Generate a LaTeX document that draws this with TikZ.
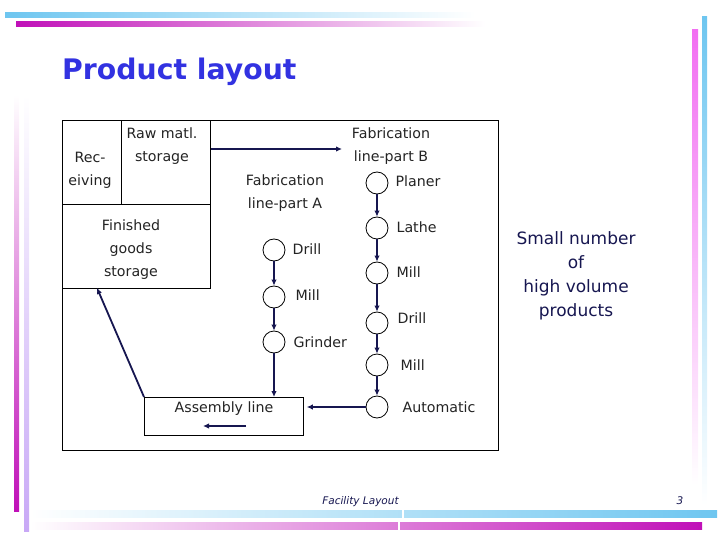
\documentclass[tikz,border=0pt]{standalone}
\usepackage{fontspec}
\setmainfont{DejaVu Sans}
\usetikzlibrary{positioning,arrows.meta,calc}
\definecolor{titleblue}{RGB}{50,50,225}
\definecolor{navy}{RGB}{22,22,80}
\definecolor{txtgray}{RGB}{35,35,35}
\definecolor{barblue}{RGB}{110,198,240}
\definecolor{barmag}{RGB}{192,16,184}
\definecolor{barpink}{RGB}{242,110,242}
\definecolor{barlav}{RGB}{200,168,246}
\newcommand{\lblfont}{\fontsize{14.2}{23}\selectfont}
\newcommand{\notefont}{\fontsize{17}{24}\selectfont}
\newcommand{\titlefont}{\fontsize{28.3}{30}\selectfont\bfseries}
\newcommand{\footfont}{\fontsize{10.5}{12}\selectfont\itshape}

\begin{document}
\begin{tikzpicture}[x=1pt,y=-1pt,
  box/.style={draw=black,line width=0.8pt,inner sep=0pt,anchor=north west},
  stn/.style={draw=black,line width=0.8pt,circle,minimum size=22pt,inner sep=0pt},
  lbl/.style={font=\lblfont,text=txtgray,inner sep=0pt,align=center},
  conn/.style={draw=navy,line width=1.8pt,-{Latex[length=6pt,width=5.5pt]}}]
\useasboundingbox (0,0) rectangle (720,540);
% slide frame bars
\shade[left color=barblue,right color=white] (5,13) rectangle (475,18);
\shade[left color=barmag,right color=white] (16,22) rectangle (485,27);
\shade[top color=barpink,bottom color=white] (692,30) rectangle (698,485);
\shade[top color=barblue,bottom color=white] (702,17) rectangle (707,505);
\shade[top color=white,bottom color=barmag] (14,95) rectangle (19,511);
\shade[top color=white,bottom color=barlav] (24,95) rectangle (29,531);
\shade[left color=white,right color=barblue] (30,510) rectangle (717,517);
\shade[left color=white,right color=barmag] (30,522) rectangle (702,529);
\fill[white] (402,509) rectangle (404,518);
\fill[white] (398,521) rectangle (400,530);
% title and footer
\node[anchor=base west,font=\titlefont,text=titleblue,inner sep=0pt] (title) at (62,80) {Product layout};
\node[anchor=base,font=\footfont,text=navy,inner sep=0pt] (foot) at (360.5,504) {Facility Layout};
\node[anchor=base,font=\footfont,text=navy,inner sep=0pt] (page) at (680,504) {3};
% plant outline and storage areas
\node[box,minimum width=436pt,minimum height=330pt] (plant) at (62,120) {};
\node[box,minimum width=59pt,minimum height=84pt] (recv) at (62,120) {};
\node[box,minimum width=89pt,minimum height=84pt] (raw) at (121,120) {};
\node[box,minimum width=148pt,minimum height=84pt] (fin) at (62,204) {};
\node[box,minimum width=159pt,minimum height=38pt] (asm) at (144,397) {};
\node[lbl] (recvtxt) at (90,170) {Rec-\\eiving};
\node[lbl] (rawtxt) at (162,146) {Raw matl.\\storage};
\node[lbl] (fintxt) at (131,250) {Finished\\goods\\storage};
\node[lbl] (asmtxt) at (224,409) {Assembly line};
\node[lbl] (fabB) at (391,146) {Fabrication\\line-part B};
\node[lbl] (fabA) at (285,193) {Fabrication\\line-part A};
% fabrication line B
\node[stn] (pl) at (377,183) {};
\node[stn] (la) at (377,228) {};
\node[stn] (mb) at (377,273) {};
\node[stn] (db) at (377,323) {};
\node[stn] (mc) at (377,365) {};
\node[stn] (au) at (377,407) {};
\node[lbl,anchor=west] at ([xshift=7pt,yshift=2pt]pl.east) {Planer};
\node[lbl,anchor=west] at ([xshift=8pt,yshift=1pt]la.east) {Lathe};
\node[lbl,anchor=west] at ([xshift=8pt,yshift=1pt]mb.east) {Mill};
\node[lbl,anchor=west] at ([xshift=9pt,yshift=5pt]db.east) {Drill};
\node[lbl,anchor=west] at ([xshift=12pt]mc.east) {Mill};
\node[lbl,anchor=west] at ([xshift=14pt]au.east) {Automatic};
% fabrication line A
\node[stn] (da) at (274,250) {};
\node[stn] (ma) at (274,297) {};
\node[stn] (gr) at (274,342) {};
\node[lbl,anchor=west] at ([xshift=7pt,yshift=1pt]da.east) {Drill};
\node[lbl,anchor=west] at ([xshift=10pt,yshift=2pt]ma.east) {Mill};
\node[lbl,anchor=west] at ([xshift=8pt]gr.east) {Grinder};
% note
\node[font=\notefont,text=navy,align=center,inner sep=0pt] (note) at (576,276) {Small number\\of\\high volume\\products};
% material flow
\coordinate (fabBin) at (342,149);
\coordinate (fgin) at (97,288);
\coordinate (asmR) at (246,426);
\coordinate (asmL) at (203,426);
\draw[conn] (raw.east |- fabBin) -- (fabBin);
\draw[conn] (pl) -- (la);
\draw[conn] (la) -- (mb);
\draw[conn] (mb) -- (db);
\draw[conn] (db) -- (mc);
\draw[conn] (mc) -- (au);
\draw[conn] (da) -- (ma);
\draw[conn] (ma) -- (gr);
\draw[conn] (gr) -- (gr |- asm.north);
\draw[conn,shorten >=3pt] (au) -- (au -| asm.east);
\draw[conn] (asmR) -- (asmL);
\draw[conn] (asm.north west) -- (fgin);
\end{tikzpicture}
\end{document}
